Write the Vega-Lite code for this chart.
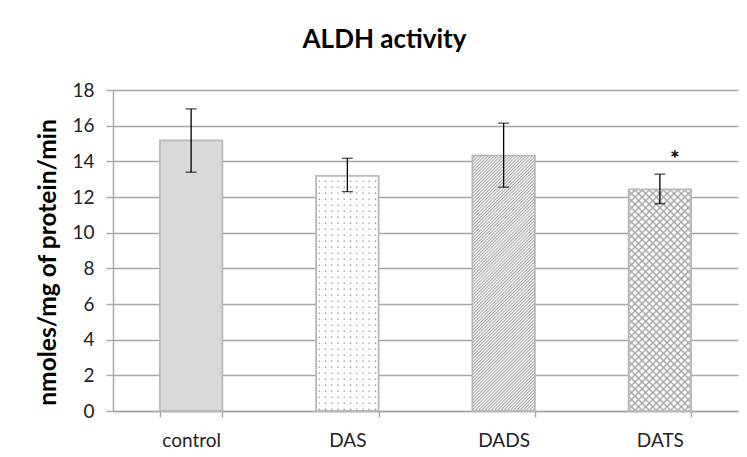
{
"$schema": "https://vega.github.io/schema/vega-lite/v6.json",
"width": 625,
"height": 321,
"autosize": {"type": "none"},
"padding": {"left": 113, "top": 90, "right": 9, "bottom": 46},
"background": "white",
"config": {"view": {"stroke": null}, "font": "Lato",
 "axisY": {"grid": true, "gridColor": "#a6a6a6", "gridWidth": 1.4, "domainColor": "#a6a6a6", "domainWidth": 1.4, "tickColor": "#a6a6a6", "tickWidth": 1.4, "tickSize": 7, "labelOverlap": false, "labelFontSize": 19, "labelPadding": 12, "labelColor": "#222", "labelFont": "Lato", "titleFont": "Lato", "titleFontSize": 24.5, "titleFontWeight": "bold", "titleColor": "#000", "titleX": -58, "titleY": 172, "titleAngle": -90, "titleAlign": "center", "titleBaseline": "alphabetic"}
},
"title": {"text": "ALDH activity", "font": "Lato", "fontSize": 26, "fontWeight": "bold", "color": "#000", "anchor": "middle", "frame": "group", "dx": -41, "offset": 7, "baseline": "alphabetic"},
"data": {"values": [
 {"group": "control", "mean": 15.18, "low": 13.39, "high": 16.94, "sig": ""},
 {"group": "DAS", "mean": 13.18, "low": 12.30, "high": 14.17, "sig": ""},
 {"group": "DADS", "mean": 14.32, "low": 12.55, "high": 16.14, "sig": ""},
 {"group": "DATS", "mean": 12.43, "low": 11.62, "high": 13.28, "sig": "*"}
]},
"encoding": {
 "x": {"field": "group", "type": "nominal", "sort": null, "scale": {"domain": ["control", "DAS", "DADS", "DATS"], "paddingInner": 0.6, "paddingOuter": 0.3},
  "axis": {"title": null, "labelAngle": 0, "tickBand": "extent", "domainColor": "#a6a6a6", "domainWidth": 1.4, "tickColor": "#a6a6a6", "tickWidth": 1.4, "tickSize": 6, "labelFontSize": 19, "labelPadding": 14, "labelColor": "#222", "labelFont": "Lato", "grid": false}},
 "y": {"field": "mean", "type": "quantitative", "title": "nmoles/mg of protein/min", "scale": {"domain": [0, 18], "nice": false}, "axis": {"values": [0, 2, 4, 6, 8, 10, 12, 14, 16, 18], "labelOverlap": false}}
},
"layer": [
 {"transform": [{"filter": "datum.group === 'DAS'"}],
  "mark": {"type": "bar", "strokeWidth": 0, "fill": {"gradient": "linear", "x1": 0, "y1": 0, "x2": 1, "y2": 0, "stops": [
   {"offset": 0, "color": "#fff"},
   {"offset": 0.03, "color": "#fff"}, {"offset": 0.05, "color": "#999"}, {"offset": 0.07, "color": "#fff"},
   {"offset": 0.13, "color": "#fff"}, {"offset": 0.15, "color": "#999"}, {"offset": 0.17, "color": "#fff"},
   {"offset": 0.23, "color": "#fff"}, {"offset": 0.25, "color": "#999"}, {"offset": 0.27, "color": "#fff"},
   {"offset": 0.33, "color": "#fff"}, {"offset": 0.35, "color": "#999"}, {"offset": 0.37, "color": "#fff"},
   {"offset": 0.43, "color": "#fff"}, {"offset": 0.45, "color": "#999"}, {"offset": 0.47, "color": "#fff"},
   {"offset": 0.53, "color": "#fff"}, {"offset": 0.55, "color": "#999"}, {"offset": 0.57, "color": "#fff"},
   {"offset": 0.63, "color": "#fff"}, {"offset": 0.65, "color": "#999"}, {"offset": 0.67, "color": "#fff"},
   {"offset": 0.73, "color": "#fff"}, {"offset": 0.75, "color": "#999"}, {"offset": 0.77, "color": "#fff"},
   {"offset": 0.83, "color": "#fff"}, {"offset": 0.85, "color": "#999"}, {"offset": 0.87, "color": "#fff"},
   {"offset": 0.93, "color": "#fff"}, {"offset": 0.95, "color": "#999"}, {"offset": 0.97, "color": "#fff"},
   {"offset": 1, "color": "#fff"}]}}
 },
 {"transform": [{"filter": "datum.group === 'DAS'"}],
  "mark": {"type": "rule", "strokeWidth": 62, "strokeDash": [4.5, 1.5], "color": "#fff", "strokeCap": "butt"},
  "encoding": {"y2": {"datum": 0}}
 },
 {"transform": [{"filter": "datum.group === 'DADS'"}],
  "mark": {"type": "bar", "strokeWidth": 0, "fill": {"gradient": "linear", "x1": 0, "y1": 0, "x2": 0.2875, "y2": 1.1748, "stops": [
{"offset":0,"color":"#aaa"},{"offset":0.005,"color":"#fff"},{"offset":0.01,"color":"#aaa"},{"offset":0.015,"color":"#fff"},{"offset":0.02,"color":"#aaa"},{"offset":0.025,"color":"#fff"},{"offset":0.03,"color":"#aaa"},{"offset":0.035,"color":"#fff"},{"offset":0.04,"color":"#aaa"},{"offset":0.045,"color":"#fff"},
{"offset":0.05,"color":"#aaa"},{"offset":0.055,"color":"#fff"},{"offset":0.06,"color":"#aaa"},{"offset":0.065,"color":"#fff"},{"offset":0.07,"color":"#aaa"},{"offset":0.075,"color":"#fff"},{"offset":0.08,"color":"#aaa"},{"offset":0.085,"color":"#fff"},{"offset":0.09,"color":"#aaa"},{"offset":0.095,"color":"#fff"},
{"offset":0.1,"color":"#aaa"},{"offset":0.105,"color":"#fff"},{"offset":0.11,"color":"#aaa"},{"offset":0.115,"color":"#fff"},{"offset":0.12,"color":"#aaa"},{"offset":0.125,"color":"#fff"},{"offset":0.13,"color":"#aaa"},{"offset":0.135,"color":"#fff"},{"offset":0.14,"color":"#aaa"},{"offset":0.145,"color":"#fff"},
{"offset":0.15,"color":"#aaa"},{"offset":0.155,"color":"#fff"},{"offset":0.16,"color":"#aaa"},{"offset":0.165,"color":"#fff"},{"offset":0.17,"color":"#aaa"},{"offset":0.175,"color":"#fff"},{"offset":0.18,"color":"#aaa"},{"offset":0.185,"color":"#fff"},{"offset":0.19,"color":"#aaa"},{"offset":0.195,"color":"#fff"},
{"offset":0.2,"color":"#aaa"},{"offset":0.205,"color":"#fff"},{"offset":0.21,"color":"#aaa"},{"offset":0.215,"color":"#fff"},{"offset":0.22,"color":"#aaa"},{"offset":0.225,"color":"#fff"},{"offset":0.23,"color":"#aaa"},{"offset":0.235,"color":"#fff"},{"offset":0.24,"color":"#aaa"},{"offset":0.245,"color":"#fff"},
{"offset":0.25,"color":"#aaa"},{"offset":0.255,"color":"#fff"},{"offset":0.26,"color":"#aaa"},{"offset":0.265,"color":"#fff"},{"offset":0.27,"color":"#aaa"},{"offset":0.275,"color":"#fff"},{"offset":0.28,"color":"#aaa"},{"offset":0.285,"color":"#fff"},{"offset":0.29,"color":"#aaa"},{"offset":0.295,"color":"#fff"},
{"offset":0.3,"color":"#aaa"},{"offset":0.305,"color":"#fff"},{"offset":0.31,"color":"#aaa"},{"offset":0.315,"color":"#fff"},{"offset":0.32,"color":"#aaa"},{"offset":0.325,"color":"#fff"},{"offset":0.33,"color":"#aaa"},{"offset":0.335,"color":"#fff"},{"offset":0.34,"color":"#aaa"},{"offset":0.345,"color":"#fff"},
{"offset":0.35,"color":"#aaa"},{"offset":0.355,"color":"#fff"},{"offset":0.36,"color":"#aaa"},{"offset":0.365,"color":"#fff"},{"offset":0.37,"color":"#aaa"},{"offset":0.375,"color":"#fff"},{"offset":0.38,"color":"#aaa"},{"offset":0.385,"color":"#fff"},{"offset":0.39,"color":"#aaa"},{"offset":0.395,"color":"#fff"},
{"offset":0.4,"color":"#aaa"},{"offset":0.405,"color":"#fff"},{"offset":0.41,"color":"#aaa"},{"offset":0.415,"color":"#fff"},{"offset":0.42,"color":"#aaa"},{"offset":0.425,"color":"#fff"},{"offset":0.43,"color":"#aaa"},{"offset":0.435,"color":"#fff"},{"offset":0.44,"color":"#aaa"},{"offset":0.445,"color":"#fff"},
{"offset":0.45,"color":"#aaa"},{"offset":0.455,"color":"#fff"},{"offset":0.46,"color":"#aaa"},{"offset":0.465,"color":"#fff"},{"offset":0.47,"color":"#aaa"},{"offset":0.475,"color":"#fff"},{"offset":0.48,"color":"#aaa"},{"offset":0.485,"color":"#fff"},{"offset":0.49,"color":"#aaa"},{"offset":0.495,"color":"#fff"},
{"offset":0.5,"color":"#aaa"},{"offset":0.505,"color":"#fff"},{"offset":0.51,"color":"#aaa"},{"offset":0.515,"color":"#fff"},{"offset":0.52,"color":"#aaa"},{"offset":0.525,"color":"#fff"},{"offset":0.53,"color":"#aaa"},{"offset":0.535,"color":"#fff"},{"offset":0.54,"color":"#aaa"},{"offset":0.545,"color":"#fff"},
{"offset":0.55,"color":"#aaa"},{"offset":0.555,"color":"#fff"},{"offset":0.56,"color":"#aaa"},{"offset":0.565,"color":"#fff"},{"offset":0.57,"color":"#aaa"},{"offset":0.575,"color":"#fff"},{"offset":0.58,"color":"#aaa"},{"offset":0.585,"color":"#fff"},{"offset":0.59,"color":"#aaa"},{"offset":0.595,"color":"#fff"},
{"offset":0.6,"color":"#aaa"},{"offset":0.605,"color":"#fff"},{"offset":0.61,"color":"#aaa"},{"offset":0.615,"color":"#fff"},{"offset":0.62,"color":"#aaa"},{"offset":0.625,"color":"#fff"},{"offset":0.63,"color":"#aaa"},{"offset":0.635,"color":"#fff"},{"offset":0.64,"color":"#aaa"},{"offset":0.645,"color":"#fff"},
{"offset":0.65,"color":"#aaa"},{"offset":0.655,"color":"#fff"},{"offset":0.66,"color":"#aaa"},{"offset":0.665,"color":"#fff"},{"offset":0.67,"color":"#aaa"},{"offset":0.675,"color":"#fff"},{"offset":0.68,"color":"#aaa"},{"offset":0.685,"color":"#fff"},{"offset":0.69,"color":"#aaa"},{"offset":0.695,"color":"#fff"},
{"offset":0.7,"color":"#aaa"},{"offset":0.705,"color":"#fff"},{"offset":0.71,"color":"#aaa"},{"offset":0.715,"color":"#fff"},{"offset":0.72,"color":"#aaa"},{"offset":0.725,"color":"#fff"},{"offset":0.73,"color":"#aaa"},{"offset":0.735,"color":"#fff"},{"offset":0.74,"color":"#aaa"},{"offset":0.745,"color":"#fff"},
{"offset":0.75,"color":"#aaa"},{"offset":0.755,"color":"#fff"},{"offset":0.76,"color":"#aaa"},{"offset":0.765,"color":"#fff"},{"offset":0.77,"color":"#aaa"},{"offset":0.775,"color":"#fff"},{"offset":0.78,"color":"#aaa"},{"offset":0.785,"color":"#fff"},{"offset":0.79,"color":"#aaa"},{"offset":0.795,"color":"#fff"},
{"offset":0.8,"color":"#aaa"},{"offset":0.805,"color":"#fff"},{"offset":0.81,"color":"#aaa"},{"offset":0.815,"color":"#fff"},{"offset":0.82,"color":"#aaa"},{"offset":0.825,"color":"#fff"},{"offset":0.83,"color":"#aaa"},{"offset":0.835,"color":"#fff"},{"offset":0.84,"color":"#aaa"},{"offset":0.845,"color":"#fff"},
{"offset":0.85,"color":"#aaa"},{"offset":0.855,"color":"#fff"},{"offset":0.86,"color":"#aaa"},{"offset":0.865,"color":"#fff"},{"offset":0.87,"color":"#aaa"},{"offset":0.875,"color":"#fff"},{"offset":0.88,"color":"#aaa"},{"offset":0.885,"color":"#fff"},{"offset":0.89,"color":"#aaa"},{"offset":0.895,"color":"#fff"},
{"offset":0.9,"color":"#aaa"},{"offset":0.905,"color":"#fff"},{"offset":0.91,"color":"#aaa"},{"offset":0.915,"color":"#fff"},{"offset":0.92,"color":"#aaa"},{"offset":0.925,"color":"#fff"},{"offset":0.93,"color":"#aaa"},{"offset":0.935,"color":"#fff"},{"offset":0.94,"color":"#aaa"},{"offset":0.945,"color":"#fff"},
{"offset":0.95,"color":"#aaa"},{"offset":0.955,"color":"#fff"},{"offset":0.96,"color":"#aaa"},{"offset":0.965,"color":"#fff"},{"offset":0.97,"color":"#aaa"},{"offset":0.975,"color":"#fff"},{"offset":0.98,"color":"#aaa"},{"offset":0.985,"color":"#fff"},{"offset":0.99,"color":"#aaa"},{"offset":0.995,"color":"#fff"},
{"offset":1,"color":"#aaa"}]}}
 },
 {"transform": [{"filter": "datum.group === 'DATS'"}],
  "mark": {"type": "bar", "strokeWidth": 0, "fill": {"gradient": "linear", "x1": 0, "y1": 0, "x2": 0.335, "y2": 1.1876, "stops": [
{"offset":0,"color":"#a8a8a8"},{"offset":0.0075,"color":"#fff"},{"offset":0.0175,"color":"#fff"},
{"offset":0.025,"color":"#a8a8a8"},{"offset":0.0325,"color":"#fff"},{"offset":0.0425,"color":"#fff"},
{"offset":0.05,"color":"#a8a8a8"},{"offset":0.0575,"color":"#fff"},{"offset":0.0675,"color":"#fff"},
{"offset":0.075,"color":"#a8a8a8"},{"offset":0.0825,"color":"#fff"},{"offset":0.0925,"color":"#fff"},
{"offset":0.1,"color":"#a8a8a8"},{"offset":0.1075,"color":"#fff"},{"offset":0.1175,"color":"#fff"},
{"offset":0.125,"color":"#a8a8a8"},{"offset":0.1325,"color":"#fff"},{"offset":0.1425,"color":"#fff"},
{"offset":0.15,"color":"#a8a8a8"},{"offset":0.1575,"color":"#fff"},{"offset":0.1675,"color":"#fff"},
{"offset":0.175,"color":"#a8a8a8"},{"offset":0.1825,"color":"#fff"},{"offset":0.1925,"color":"#fff"},
{"offset":0.2,"color":"#a8a8a8"},{"offset":0.2075,"color":"#fff"},{"offset":0.2175,"color":"#fff"},
{"offset":0.225,"color":"#a8a8a8"},{"offset":0.2325,"color":"#fff"},{"offset":0.2425,"color":"#fff"},
{"offset":0.25,"color":"#a8a8a8"},{"offset":0.2575,"color":"#fff"},{"offset":0.2675,"color":"#fff"},
{"offset":0.275,"color":"#a8a8a8"},{"offset":0.2825,"color":"#fff"},{"offset":0.2925,"color":"#fff"},
{"offset":0.3,"color":"#a8a8a8"},{"offset":0.3075,"color":"#fff"},{"offset":0.3175,"color":"#fff"},
{"offset":0.325,"color":"#a8a8a8"},{"offset":0.3325,"color":"#fff"},{"offset":0.3425,"color":"#fff"},
{"offset":0.35,"color":"#a8a8a8"},{"offset":0.3575,"color":"#fff"},{"offset":0.3675,"color":"#fff"},
{"offset":0.375,"color":"#a8a8a8"},{"offset":0.3825,"color":"#fff"},{"offset":0.3925,"color":"#fff"},
{"offset":0.4,"color":"#a8a8a8"},{"offset":0.4075,"color":"#fff"},{"offset":0.4175,"color":"#fff"},
{"offset":0.425,"color":"#a8a8a8"},{"offset":0.4325,"color":"#fff"},{"offset":0.4425,"color":"#fff"},
{"offset":0.45,"color":"#a8a8a8"},{"offset":0.4575,"color":"#fff"},{"offset":0.4675,"color":"#fff"},
{"offset":0.475,"color":"#a8a8a8"},{"offset":0.4825,"color":"#fff"},{"offset":0.4925,"color":"#fff"},
{"offset":0.5,"color":"#a8a8a8"},{"offset":0.5075,"color":"#fff"},{"offset":0.5175,"color":"#fff"},
{"offset":0.525,"color":"#a8a8a8"},{"offset":0.5325,"color":"#fff"},{"offset":0.5425,"color":"#fff"},
{"offset":0.55,"color":"#a8a8a8"},{"offset":0.5575,"color":"#fff"},{"offset":0.5675,"color":"#fff"},
{"offset":0.575,"color":"#a8a8a8"},{"offset":0.5825,"color":"#fff"},{"offset":0.5925,"color":"#fff"},
{"offset":0.6,"color":"#a8a8a8"},{"offset":0.6075,"color":"#fff"},{"offset":0.6175,"color":"#fff"},
{"offset":0.625,"color":"#a8a8a8"},{"offset":0.6325,"color":"#fff"},{"offset":0.6425,"color":"#fff"},
{"offset":0.65,"color":"#a8a8a8"},{"offset":0.6575,"color":"#fff"},{"offset":0.6675,"color":"#fff"},
{"offset":0.675,"color":"#a8a8a8"},{"offset":0.6825,"color":"#fff"},{"offset":0.6925,"color":"#fff"},
{"offset":0.7,"color":"#a8a8a8"},{"offset":0.7075,"color":"#fff"},{"offset":0.7175,"color":"#fff"},
{"offset":0.725,"color":"#a8a8a8"},{"offset":0.7325,"color":"#fff"},{"offset":0.7425,"color":"#fff"},
{"offset":0.75,"color":"#a8a8a8"},{"offset":0.7575,"color":"#fff"},{"offset":0.7675,"color":"#fff"},
{"offset":0.775,"color":"#a8a8a8"},{"offset":0.7825,"color":"#fff"},{"offset":0.7925,"color":"#fff"},
{"offset":0.8,"color":"#a8a8a8"},{"offset":0.8075,"color":"#fff"},{"offset":0.8175,"color":"#fff"},
{"offset":0.825,"color":"#a8a8a8"},{"offset":0.8325,"color":"#fff"},{"offset":0.8425,"color":"#fff"},
{"offset":0.85,"color":"#a8a8a8"},{"offset":0.8575,"color":"#fff"},{"offset":0.8675,"color":"#fff"},
{"offset":0.875,"color":"#a8a8a8"},{"offset":0.8825,"color":"#fff"},{"offset":0.8925,"color":"#fff"},
{"offset":0.9,"color":"#a8a8a8"},{"offset":0.9075,"color":"#fff"},{"offset":0.9175,"color":"#fff"},
{"offset":0.925,"color":"#a8a8a8"},{"offset":0.9325,"color":"#fff"},{"offset":0.9425,"color":"#fff"},
{"offset":0.95,"color":"#a8a8a8"},{"offset":0.9575,"color":"#fff"},{"offset":0.9675,"color":"#fff"},
{"offset":0.975,"color":"#a8a8a8"},{"offset":0.9825,"color":"#fff"},{"offset":0.9925,"color":"#fff"},
{"offset":1,"color":"#a8a8a8"}]}}
 },
 {"transform": [{"filter": "datum.group === 'DATS'"}],
  "mark": {"type": "bar", "strokeWidth": 0, "fill": {"gradient": "linear", "x1": 0, "y1": 1, "x2": 0.335, "y2": -0.1876, "stops": [
{"offset":0,"color":"#a8a8a8"},{"offset":0.0075,"color":"rgba(168,168,168,0)"},{"offset":0.0175,"color":"rgba(168,168,168,0)"},
{"offset":0.025,"color":"#a8a8a8"},{"offset":0.0325,"color":"rgba(168,168,168,0)"},{"offset":0.0425,"color":"rgba(168,168,168,0)"},
{"offset":0.05,"color":"#a8a8a8"},{"offset":0.0575,"color":"rgba(168,168,168,0)"},{"offset":0.0675,"color":"rgba(168,168,168,0)"},
{"offset":0.075,"color":"#a8a8a8"},{"offset":0.0825,"color":"rgba(168,168,168,0)"},{"offset":0.0925,"color":"rgba(168,168,168,0)"},
{"offset":0.1,"color":"#a8a8a8"},{"offset":0.1075,"color":"rgba(168,168,168,0)"},{"offset":0.1175,"color":"rgba(168,168,168,0)"},
{"offset":0.125,"color":"#a8a8a8"},{"offset":0.1325,"color":"rgba(168,168,168,0)"},{"offset":0.1425,"color":"rgba(168,168,168,0)"},
{"offset":0.15,"color":"#a8a8a8"},{"offset":0.1575,"color":"rgba(168,168,168,0)"},{"offset":0.1675,"color":"rgba(168,168,168,0)"},
{"offset":0.175,"color":"#a8a8a8"},{"offset":0.1825,"color":"rgba(168,168,168,0)"},{"offset":0.1925,"color":"rgba(168,168,168,0)"},
{"offset":0.2,"color":"#a8a8a8"},{"offset":0.2075,"color":"rgba(168,168,168,0)"},{"offset":0.2175,"color":"rgba(168,168,168,0)"},
{"offset":0.225,"color":"#a8a8a8"},{"offset":0.2325,"color":"rgba(168,168,168,0)"},{"offset":0.2425,"color":"rgba(168,168,168,0)"},
{"offset":0.25,"color":"#a8a8a8"},{"offset":0.2575,"color":"rgba(168,168,168,0)"},{"offset":0.2675,"color":"rgba(168,168,168,0)"},
{"offset":0.275,"color":"#a8a8a8"},{"offset":0.2825,"color":"rgba(168,168,168,0)"},{"offset":0.2925,"color":"rgba(168,168,168,0)"},
{"offset":0.3,"color":"#a8a8a8"},{"offset":0.3075,"color":"rgba(168,168,168,0)"},{"offset":0.3175,"color":"rgba(168,168,168,0)"},
{"offset":0.325,"color":"#a8a8a8"},{"offset":0.3325,"color":"rgba(168,168,168,0)"},{"offset":0.3425,"color":"rgba(168,168,168,0)"},
{"offset":0.35,"color":"#a8a8a8"},{"offset":0.3575,"color":"rgba(168,168,168,0)"},{"offset":0.3675,"color":"rgba(168,168,168,0)"},
{"offset":0.375,"color":"#a8a8a8"},{"offset":0.3825,"color":"rgba(168,168,168,0)"},{"offset":0.3925,"color":"rgba(168,168,168,0)"},
{"offset":0.4,"color":"#a8a8a8"},{"offset":0.4075,"color":"rgba(168,168,168,0)"},{"offset":0.4175,"color":"rgba(168,168,168,0)"},
{"offset":0.425,"color":"#a8a8a8"},{"offset":0.4325,"color":"rgba(168,168,168,0)"},{"offset":0.4425,"color":"rgba(168,168,168,0)"},
{"offset":0.45,"color":"#a8a8a8"},{"offset":0.4575,"color":"rgba(168,168,168,0)"},{"offset":0.4675,"color":"rgba(168,168,168,0)"},
{"offset":0.475,"color":"#a8a8a8"},{"offset":0.4825,"color":"rgba(168,168,168,0)"},{"offset":0.4925,"color":"rgba(168,168,168,0)"},
{"offset":0.5,"color":"#a8a8a8"},{"offset":0.5075,"color":"rgba(168,168,168,0)"},{"offset":0.5175,"color":"rgba(168,168,168,0)"},
{"offset":0.525,"color":"#a8a8a8"},{"offset":0.5325,"color":"rgba(168,168,168,0)"},{"offset":0.5425,"color":"rgba(168,168,168,0)"},
{"offset":0.55,"color":"#a8a8a8"},{"offset":0.5575,"color":"rgba(168,168,168,0)"},{"offset":0.5675,"color":"rgba(168,168,168,0)"},
{"offset":0.575,"color":"#a8a8a8"},{"offset":0.5825,"color":"rgba(168,168,168,0)"},{"offset":0.5925,"color":"rgba(168,168,168,0)"},
{"offset":0.6,"color":"#a8a8a8"},{"offset":0.6075,"color":"rgba(168,168,168,0)"},{"offset":0.6175,"color":"rgba(168,168,168,0)"},
{"offset":0.625,"color":"#a8a8a8"},{"offset":0.6325,"color":"rgba(168,168,168,0)"},{"offset":0.6425,"color":"rgba(168,168,168,0)"},
{"offset":0.65,"color":"#a8a8a8"},{"offset":0.6575,"color":"rgba(168,168,168,0)"},{"offset":0.6675,"color":"rgba(168,168,168,0)"},
{"offset":0.675,"color":"#a8a8a8"},{"offset":0.6825,"color":"rgba(168,168,168,0)"},{"offset":0.6925,"color":"rgba(168,168,168,0)"},
{"offset":0.7,"color":"#a8a8a8"},{"offset":0.7075,"color":"rgba(168,168,168,0)"},{"offset":0.7175,"color":"rgba(168,168,168,0)"},
{"offset":0.725,"color":"#a8a8a8"},{"offset":0.7325,"color":"rgba(168,168,168,0)"},{"offset":0.7425,"color":"rgba(168,168,168,0)"},
{"offset":0.75,"color":"#a8a8a8"},{"offset":0.7575,"color":"rgba(168,168,168,0)"},{"offset":0.7675,"color":"rgba(168,168,168,0)"},
{"offset":0.775,"color":"#a8a8a8"},{"offset":0.7825,"color":"rgba(168,168,168,0)"},{"offset":0.7925,"color":"rgba(168,168,168,0)"},
{"offset":0.8,"color":"#a8a8a8"},{"offset":0.8075,"color":"rgba(168,168,168,0)"},{"offset":0.8175,"color":"rgba(168,168,168,0)"},
{"offset":0.825,"color":"#a8a8a8"},{"offset":0.8325,"color":"rgba(168,168,168,0)"},{"offset":0.8425,"color":"rgba(168,168,168,0)"},
{"offset":0.85,"color":"#a8a8a8"},{"offset":0.8575,"color":"rgba(168,168,168,0)"},{"offset":0.8675,"color":"rgba(168,168,168,0)"},
{"offset":0.875,"color":"#a8a8a8"},{"offset":0.8825,"color":"rgba(168,168,168,0)"},{"offset":0.8925,"color":"rgba(168,168,168,0)"},
{"offset":0.9,"color":"#a8a8a8"},{"offset":0.9075,"color":"rgba(168,168,168,0)"},{"offset":0.9175,"color":"rgba(168,168,168,0)"},
{"offset":0.925,"color":"#a8a8a8"},{"offset":0.9325,"color":"rgba(168,168,168,0)"},{"offset":0.9425,"color":"rgba(168,168,168,0)"},
{"offset":0.95,"color":"#a8a8a8"},{"offset":0.9575,"color":"rgba(168,168,168,0)"},{"offset":0.9675,"color":"rgba(168,168,168,0)"},
{"offset":0.975,"color":"#a8a8a8"},{"offset":0.9825,"color":"rgba(168,168,168,0)"},{"offset":0.9925,"color":"rgba(168,168,168,0)"},
{"offset":1,"color":"#a8a8a8"}]}}
 },
 {"mark": {"type": "bar", "stroke": "#b8b8b8", "strokeWidth": 1.8},
  "encoding": {"fill": {"condition": {"test": "datum.group === 'control'", "value": "#d9d9d9"}, "value": "transparent"}}
 },
 {"mark": {"type": "errorbar", "ticks": true, "size": 11, "thickness": 1.3, "color": "#000"},
  "encoding": {"y": {"field": "low", "type": "quantitative", "title": "nmoles/mg of protein/min", "scale": {"domain": [0, 18], "nice": false}, "axis": {"values": [0, 2, 4, 6, 8, 10, 12, 14, 16, 18], "labelOverlap": false}}, "y2": {"field": "high"}}
 },
 {"transform": [{"filter": "datum.sig !== ''"}],
  "mark": {"type": "text", "font": "Lato", "fontSize": 23, "fontWeight": "bold", "dx": 15, "dy": -7, "baseline": "alphabetic", "align": "center", "color": "#000"},
  "encoding": {"y": {"field": "high", "type": "quantitative", "title": "nmoles/mg of protein/min", "scale": {"domain": [0, 18], "nice": false}, "axis": {"values": [0, 2, 4, 6, 8, 10, 12, 14, 16, 18], "labelOverlap": false}}, "text": {"field": "sig"}}
 }
]
}
